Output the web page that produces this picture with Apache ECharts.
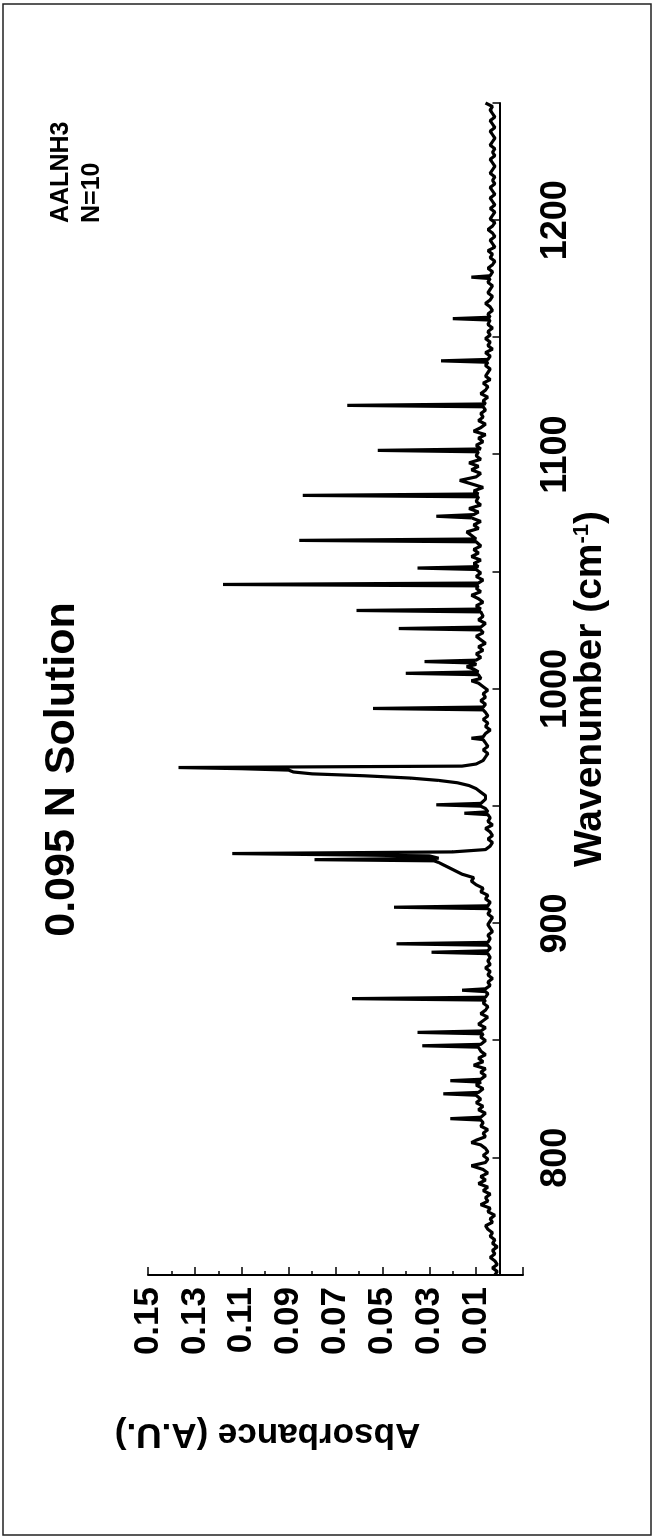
<!DOCTYPE html>
<html>
<head>
<meta charset="utf-8">
<script src="https://cdn.jsdelivr.net/npm/echarts@6/dist/echarts.min.js"></script>
<style>
  html, body { margin: 0; padding: 0; background: #fff; overflow: hidden; }
  body { width: 654px; height: 1539px; position: relative; }
  #chart {
    position: absolute; left: 0; top: 0;
    width: 1539px; height: 654px;
    transform-origin: 0 0;
    transform: translate(0px, 1539px) rotate(-90deg);
  }
</style>
</head>
<body>
<div id="chart"></div>
<script>
// Spectrum: [wavenumber (cm-1), absorbance (A.U.)]
const spectrum = [
  [750,0.002],[751.5,0.001],[753,0.003],[754.5,0.001],[756,0.002],[757.5,0.004],[759,0.002],[760.5,0.003],
  [762,0.001],[763.5,0.003],[765,0.002],[766.5,0.004],[768,0.003],[769.5,0.005],[771,0.006],[772.5,0.003],
  [774,0.004],[775.5,0.002],[777,0.005],[778.5,0.004],[780,0.008],[781.5,0.005],[783,0.006],[784.5,0.004],
  [786,0.007],[787.5,0.005],[789,0.009],[790.5,0.006],[792,0.008],[793.5,0.005],[795,0.007],[796.6,0.012],
  [798,0.006],[799.5,0.005],
  [801,0.007],[802.5,0.005],[804,0.006],[805.5,0.008],[806.5,0.012],[807.5,0.010],[809,0.006],[810.5,0.007],
  [812,0.005],[813.5,0.008],[815,0.007],[816.1,0.008],[816.7,0.021],[817.3,0.008],[819,0.006],[820.5,0.009],
  [822,0.007],[823.5,0.010],[825,0.008],[826.7,0.010],[827.3,0.024],[827.9,0.009],[829.5,0.007],[831,0.010],
  [832.3,0.008],[832.9,0.021],[833.5,0.008],[835,0.006],
  [836.5,0.008],[838,0.006],[839.5,0.011],[841,0.007],[842.5,0.009],[844,0.006],[845.5,0.008],[847.2,0.009],
  [847.8,0.033],[848.4,0.008],[850,0.006],[851.5,0.008],[852.9,0.007],[853.5,0.035],[854.1,0.008],[855.5,0.006],
  [857,0.009],[858.5,0.007],[860,0.005],[861.5,0.008],[863,0.006],[864.5,0.005],[866,0.007],[867.3,0.006],
  [867.9,0.063],[868.5,0.006],[870,0.005],[870.9,0.006],[871.5,0.016],[872.1,0.006],
  [873.5,0.004],[875,0.005],[876.5,0.003],[878,0.005],[879.5,0.004],[881,0.006],[882.5,0.004],[884,0.005],
  [885.5,0.004],[887.1,0.005],[887.7,0.029],[888.3,0.005],[889.5,0.004],[890.7,0.005],[891.3,0.044],[891.9,0.005],
  [893.5,0.004],[895,0.005],[896.5,0.003],[898,0.004],[899.5,0.005],[901,0.004],[902.5,0.003],[904,0.005],
  [905.5,0.004],[906.3,0.005],[906.9,0.045],[907.5,0.005],[909,0.004],
  [910.5,0.006],[912,0.005],[913.5,0.008],[915,0.007],[916.5,0.010],[918,0.012],[919.5,0.011],[921,0.016],
  [922.5,0.019],[924,0.022],[925,0.024],[926,0.026],[926.7,0.028],[927.2,0.079],[927.8,0.026],[928.8,0.030],
  [929.8,0.114],[930.5,0.020],[931.5,0.006],
  [933,0.004],[934.5,0.003],[936,0.005],[937.5,0.003],[939,0.004],[940.5,0.006],[942,0.003],[943.5,0.005],
  [945,0.004],[946.4,0.005],[947,0.015],[947.6,0.005],[949,0.006],[950,0.008],[950.6,0.027],[951.2,0.008],
  [953,0.006],[954.5,0.006],[956,0.008],[957.5,0.010],[958.8,0.013],[960,0.018],[961,0.026],[962,0.038],
  [963,0.058],[963.8,0.080],[964.6,0.088],[965.4,0.090],[966,0.110],[966.5,0.137],[967.1,0.016],[968,0.010],
  [969.5,0.007],[971,0.006],
  [972.5,0.005],[974,0.007],[975.5,0.005],[977,0.006],[978.4,0.007],[979,0.012],[979.6,0.007],[981,0.006],
  [982.5,0.004],[984,0.006],[985.5,0.005],[987,0.007],[988.5,0.005],[990,0.006],[991.1,0.007],[991.7,0.054],
  [992.3,0.007],[993.5,0.006],[995,0.008],[996.5,0.006],[998,0.007],[999.5,0.005],
  [1001,0.007],[1002.5,0.009],[1003.5,0.012],[1004.5,0.008],[1006.1,0.009],[1006.7,0.040],[1007.3,0.009],[1008.5,0.011],
  [1009.5,0.014],[1010.5,0.010],[1011.1,0.011],[1011.7,0.032],[1012.3,0.010],[1013.5,0.008],[1015,0.010],[1016.5,0.007],
  [1018,0.009],[1019.5,0.006],[1021,0.008],[1022.5,0.010],[1024,0.007],[1025.2,0.008],[1025.8,0.043],[1026.4,0.008],
  [1028,0.006],[1029.5,0.009],
  [1031,0.007],[1032.9,0.008],[1033.5,0.061],[1034.1,0.008],[1035.5,0.010],[1037,0.007],[1038.5,0.009],[1040,0.012],
  [1041.5,0.008],[1043,0.010],[1044,0.009],[1044.6,0.118],[1045.2,0.009],[1046.5,0.007],[1048,0.010],[1049.5,0.008],
  [1051,0.010],[1051.6,0.035],[1052.2,0.009],[1053.5,0.011],[1055,0.008],[1056.5,0.012],[1058,0.009],[1059.5,0.011],
  [1061,0.008],[1062.8,0.010],[1063.4,0.0855],[1064,0.010],[1065.5,0.012],[1067,0.014],[1068.5,0.009],[1070,0.011],
  [1071.5,0.008],[1073,0.012],[1073.7,0.027],[1074.4,0.011],[1075.5,0.009],[1077,0.013],[1078.5,0.008],[1080,0.010],
  [1082,0.009],[1082.6,0.084],[1083.2,0.009],[1084.5,0.011],[1086,0.007],[1087.5,0.012],[1089,0.017],[1090.5,0.010],
  [1092,0.008],[1093.5,0.012],[1095,0.009],[1096.5,0.013],[1098,0.008],[1099.5,0.010],
  [1101.2,0.009],[1101.8,0.052],[1102.4,0.008],[1104,0.010],[1105.5,0.007],[1107,0.009],[1108.5,0.006],[1110,0.011],
  [1111.5,0.008],[1113,0.006],[1114.5,0.009],[1116,0.007],[1117.5,0.008],[1119,0.006],[1120.4,0.007],[1121,0.065],
  [1121.6,0.006],[1123,0.007],[1124.5,0.005],[1126,0.008],[1127.5,0.006],[1129,0.005],
  [1130.5,0.007],[1132,0.004],[1133.5,0.006],[1135,0.005],[1136.5,0.004],[1138,0.006],[1139.4,0.005],[1140,0.025],
  [1140.6,0.005],[1142,0.004],[1143.5,0.006],[1145,0.003],[1146.5,0.005],[1148,0.004],[1149.5,0.006],[1151,0.004],
  [1152.5,0.005],[1154,0.003],[1155.5,0.005],[1157.4,0.004],[1158,0.020],[1158.6,0.004],[1160,0.005],[1161.5,0.003],
  [1163,0.004],[1164.5,0.006],[1166,0.004],[1167.5,0.003],[1169,0.005],[1170.5,0.004],[1172,0.003],[1173.5,0.005],
  [1175.1,0.004],[1175.7,0.012],[1176.3,0.004],[1178,0.003],[1179.5,0.005],
  [1181,0.003],[1182.5,0.002],[1184,0.004],[1185.5,0.003],[1187,0.005],[1188.5,0.002],[1190,0.003],[1191.5,0.004],
  [1193,0.002],[1194.5,0.003],[1196,0.005],[1197.5,0.003],[1199,0.002],[1200.5,0.004],[1202,0.003],[1203.5,0.002],
  [1205,0.004],[1206.5,0.002],[1208,0.003],[1209.5,0.004],[1211,0.002],[1212.5,0.003],[1214,0.004],[1215.5,0.002],
  [1217,0.003],[1218.5,0.002],[1220,0.004],[1221.5,0.003],[1223,0.002],[1224.5,0.003],[1226,0.004],[1227.5,0.002],
  [1229,0.003],[1230.5,0.002],[1232,0.004],[1233.5,0.003],[1235,0.002],[1236.5,0.003],[1238,0.004],[1239.5,0.002],
  [1241,0.003],[1242.5,0.004],[1244,0.002],[1245.5,0.003],[1247,0.004],[1248.5,0.003],[1250,0.006]
];
const xTickLabels = [800, 900, 1000, 1100, 1200];
const yTickLabels = ['0.01','0.03','0.05','0.07','0.09','0.11','0.13','0.15'];
const titleText = '0.095 N Solution';
const noteText = 'AALNH3\nN=10';

const FONT = '"Liberation Sans", Arial, Helvetica, sans-serif';
const chart = echarts.init(document.getElementById('chart'), null, { renderer: 'canvas' });
chart.setOption({
  animation: false,
  backgroundColor: '#ffffff',
  title: [
    { text: titleText, left: 'center', top: 41, padding: 0,
      textStyle: { fontFamily: FONT, fontSize: 43, fontWeight: 'bold', color: '#000' } },
    { text: noteText, left: 1316, top: 46, padding: 0,
      textStyle: { fontFamily: FONT, fontSize: 25, fontWeight: 'bold', color: '#000', lineHeight: 31 } }
  ],
  graphic: [
    { type: 'rect', shape: { x: 4, y: 3, width: 1531, height: 648 },
      style: { fill: 'none', stroke: '#222', lineWidth: 1.5 }, silent: true }
  ],
  grid: { left: 264, right: 103, top: 148, bottom: 131, containLabel: false },
  xAxis: {
    type: 'value', min: 750, max: 1250, interval: 50,
    name: 'Wavenumber (cm{sup|-1})',
    nameLocation: 'middle', nameGap: 48, nameMoveOverlap: false,
    nameTextStyle: { fontFamily: FONT, fontSize: 39, fontWeight: 'bold', color: '#000',
      rich: { sup: { fontFamily: FONT, fontSize: 22, fontWeight: 'bold', color: '#000', verticalAlign: 'top' } } },
    axisLine: { show: true, lineStyle: { color: '#000', width: 2 } },
    axisTick: { show: true, inside: true, length: 7, lineStyle: { color: '#000', width: 1.5 } },
    axisLabel: { fontFamily: FONT, fontSize: 36, fontWeight: 'bold', color: '#000', margin: 15,
      formatter: v => xTickLabels.includes(Math.round(v)) ? String(Math.round(v)) : '' },
    splitLine: { show: false }
  },
  yAxis: {
    type: 'value', min: -0.01, max: 0.15, interval: 0.02,
    name: 'Absorbance (A.U.)',
    nameLocation: 'middle', nameRotate: 90, nameGap: 141, nameMoveOverlap: false,
    nameTextStyle: { fontFamily: FONT, fontSize: 35, fontWeight: 'bold', color: '#000', padding: [0, 0, 0, 136] },
    axisLine: { show: true, lineStyle: { color: '#000', width: 2 } },
    axisTick: { show: true, inside: true, length: 8, lineStyle: { color: '#000', width: 1.5 } },
    minorTick: { show: true, splitNumber: 2, length: 4, lineStyle: { color: '#000', width: 1.5 } },
    axisLabel: { fontFamily: FONT, fontSize: 35, fontWeight: 'bold', color: '#000', margin: 12,
      formatter: v => { const s = v.toFixed(2); return yTickLabels.includes(s) ? s : ''; } },
    splitLine: { show: false }
  },
  series: [{
    type: 'line', data: spectrum, showSymbol: false, symbol: 'none',
    lineStyle: { color: '#000', width: 3.2 }, clip: true
  }]
});
</script>
</body>
</html>
